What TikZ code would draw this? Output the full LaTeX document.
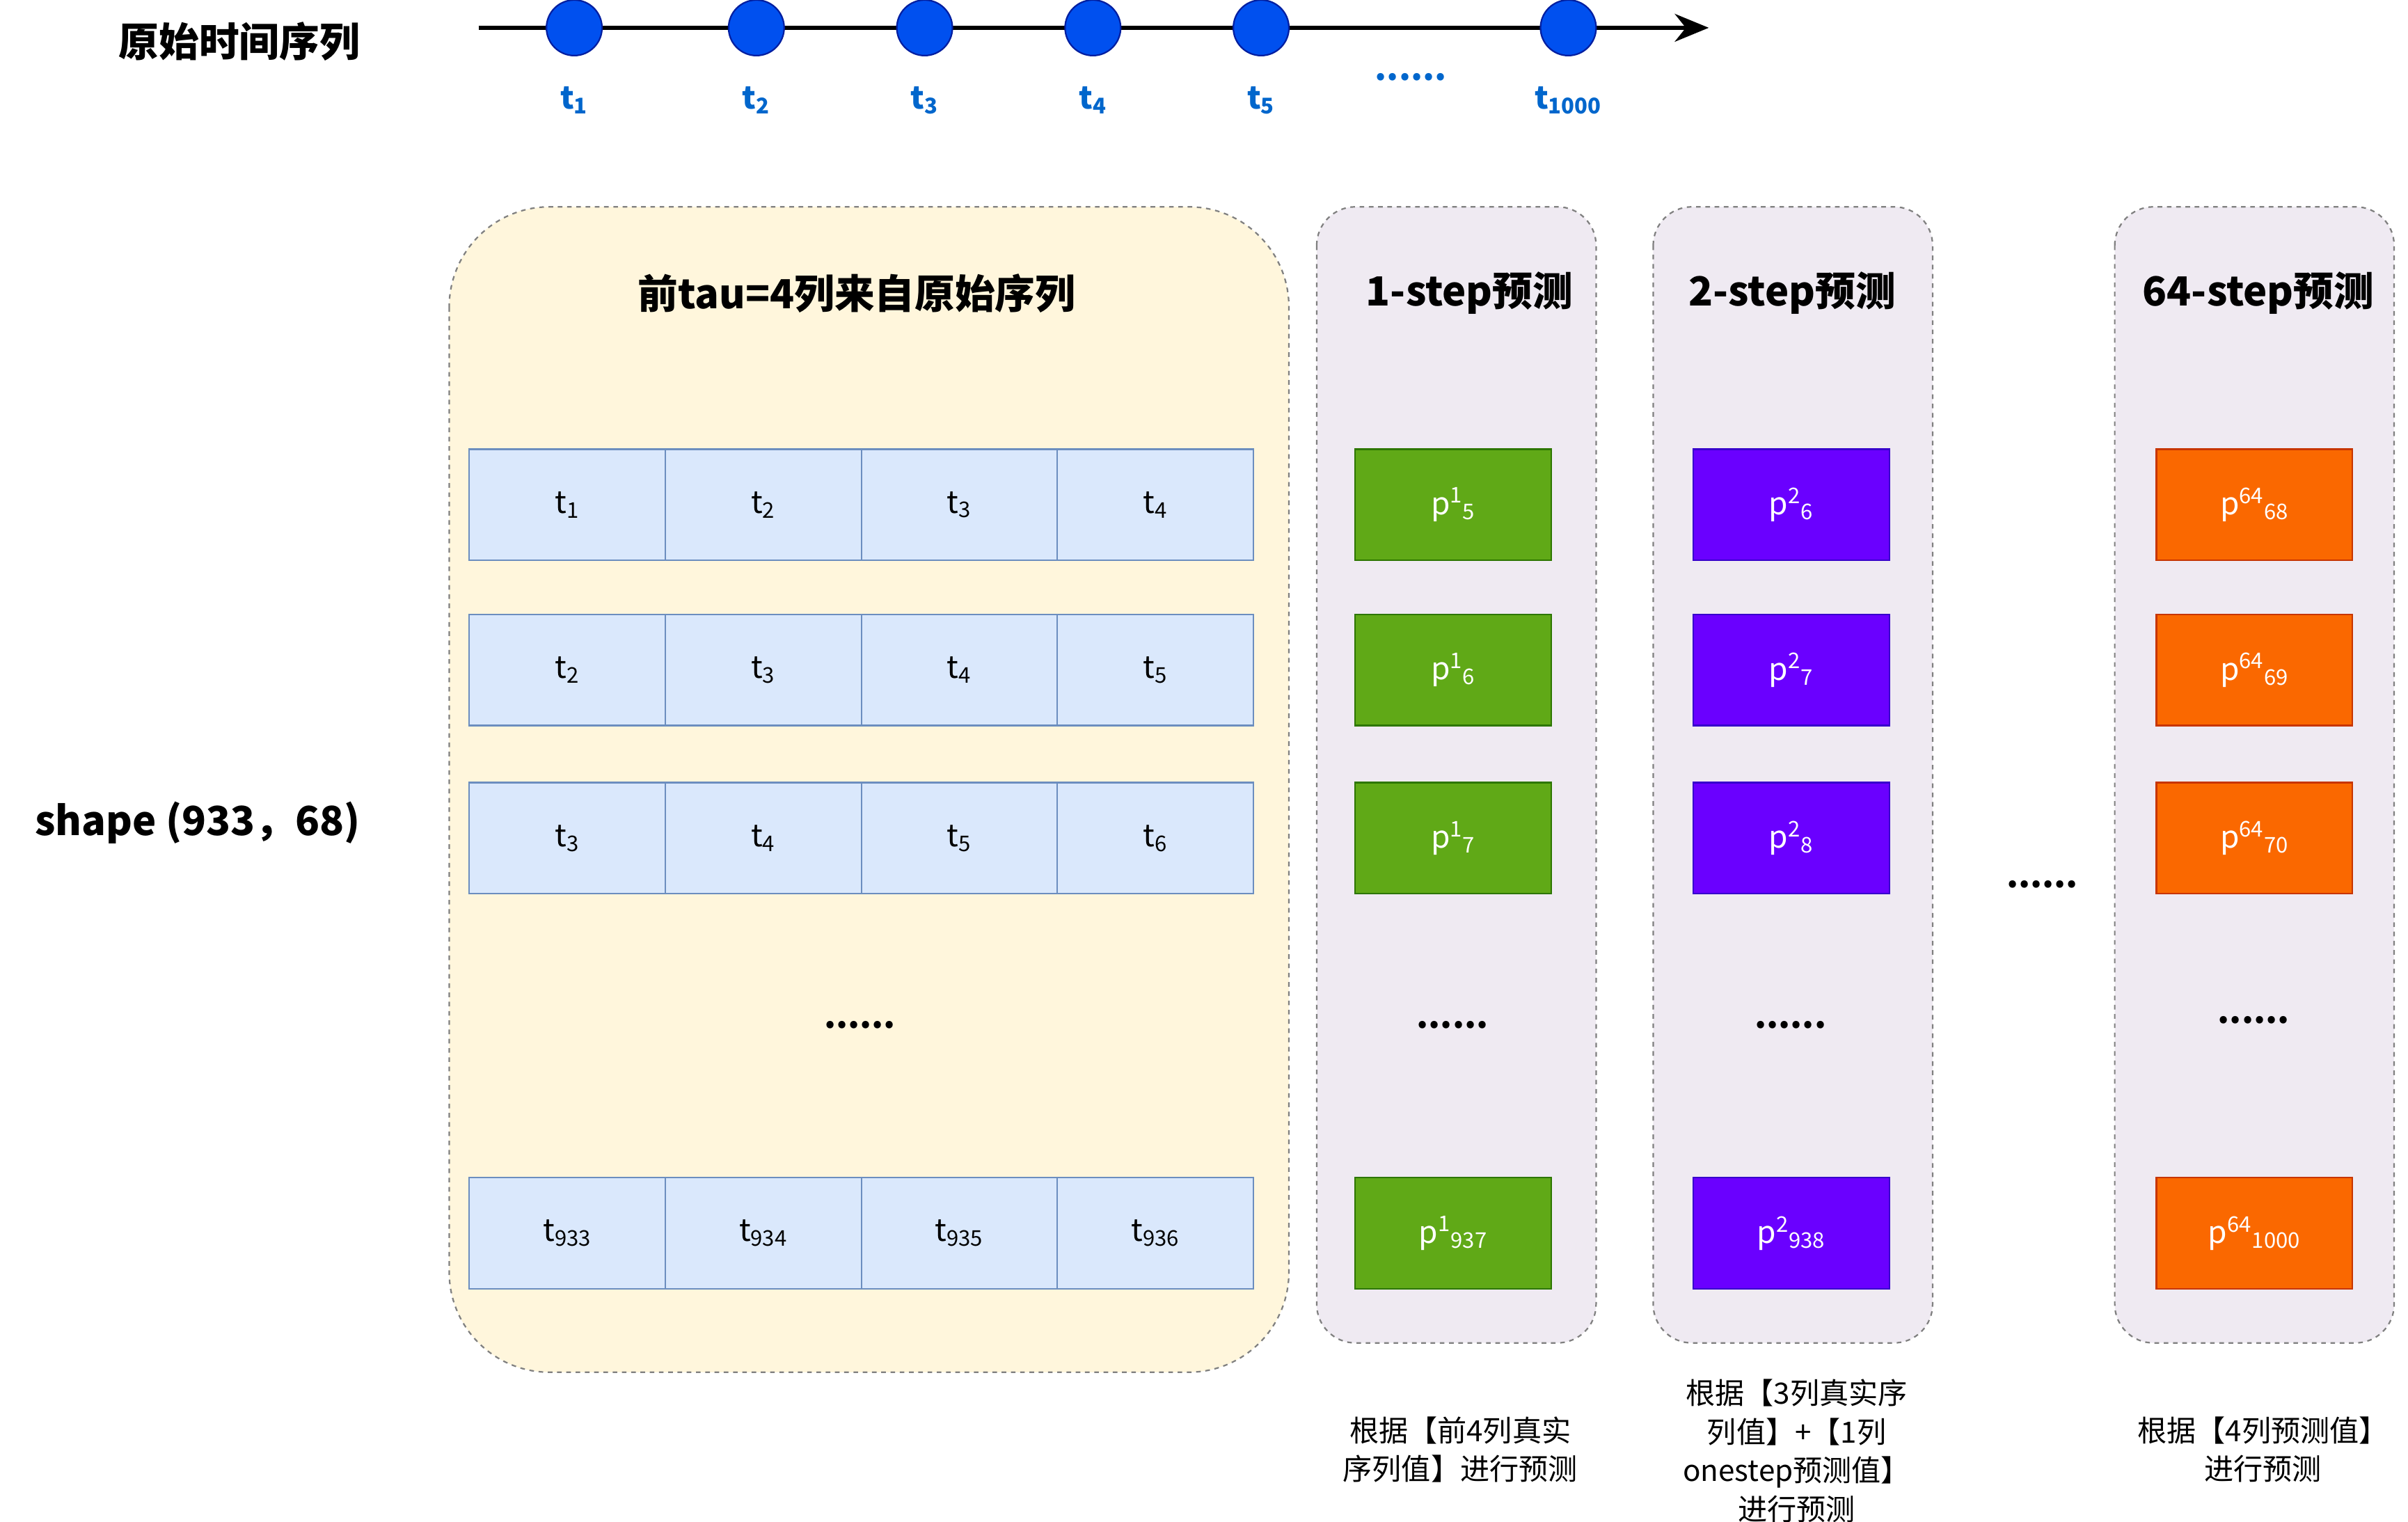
\documentclass[tikz,border=0pt]{standalone}
\usepackage{fontspec}
\setmainfont{Noto Sans CJK SC}
\usetikzlibrary{arrows.meta}
\definecolor{tblue}{HTML}{0050EF}
\definecolor{tblued}{HTML}{001EA0}
\definecolor{tlab}{HTML}{0066CC}
\definecolor{gfill}{HTML}{DAE8FC}
\definecolor{gline}{HTML}{6C8EBF}
\definecolor{yfill}{HTML}{FFF6DC}
\definecolor{pfill}{HTML}{EFEAF2}
\definecolor{grf}{HTML}{60A917}
\definecolor{grl}{HTML}{2D7600}
\definecolor{puf}{HTML}{6A00FF}
\definecolor{pul}{HTML}{3700CC}
\definecolor{orf}{HTML}{FA6800}
\definecolor{orl}{HTML}{C73500}
\begin{document}
\begin{tikzpicture}[x=1pt,y=-1pt,
  grid/.style={draw=gline,fill=gfill,line width=1pt,minimum width=127pt,minimum height=72pt,inner sep=0pt,font=\fontsize{20}{22}\selectfont},
  pbox/.style={draw=#1,line width=1pt,minimum width=127pt,minimum height=72pt,inner sep=0pt,text=white,font=\fontsize{20}{22}\selectfont},
  pan/.style={draw=gray,dashed,line width=1pt,rounded corners=25pt},
  ttl/.style={font=\fontsize{26}{28}\selectfont\bfseries},
  dots/.style={font=\fontsize{22}{22}\selectfont\bfseries},
  captxt/.style={font=\fontsize{19}{25}\selectfont,align=center},
  pt/.style={circle,draw=tblued,fill=tblue,minimum size=36pt,inner sep=0pt,line width=1pt},
  tl/.style={text=tlab,font=\fontsize{20}{22}\selectfont\bfseries}]
\useasboundingbox (0,0) rectangle (1560,986);
% timeline
\node[ttl] (title) at (155,27) {原始时间序列};
\coordinate (ls) at (310,18); \coordinate (le) at (1107,18);
\draw[line width=2.5pt,-{Stealth[length=22pt,width=18pt]}] (ls) -- (le);
\foreach \x/\l/\n in {372/1/a,490/2/b,599/3/c,708/4/d,817/5/e,1016/1000/f}{
  \node[pt] (c\n) at (\x,18) {};
  \node[tl] (l\n) at (\x,65) {t\textsubscript{\l}};
}
\node[text=tlab,dots] (tdots) at (914,50) {......};
% panels
\draw[pan,rounded corners=65pt,fill=yfill] (291,134) rectangle (835,889);
\foreach \x in {853,1071,1370}{
  \draw[pan,fill=pfill] (\x,134) rectangle ++(181,736);
}
\node[ttl] (h0) at (555,190) {前tau=4列来自原始序列};
\node[ttl] (h1) at (952,190) {1-step预测};
\node[ttl] (h2) at (1161,190) {2-step预测};
\node[ttl] (h3) at (1463,190) {64-step预测};
\node[ttl] (shape) at (128,533) {shape (933，68)};
% grid
\foreach \y/\a/\b/\c/\d/\r in {327/1/2/3/4/1,434/2/3/4/5/2,543/3/4/5/6/3,799/933/934/935/936/4}{
  \node[grid] (g\r a) at (367.5,\y) {t\textsubscript{\a}};
  \node[grid] (g\r b) at (494.5,\y) {t\textsubscript{\b}};
  \node[grid] (g\r c) at (621.5,\y) {t\textsubscript{\c}};
  \node[grid] (g\r d) at (748.5,\y) {t\textsubscript{\d}};
}
% predictions
\foreach \y/\a/\b/\c/\r in {327/5/6/68/1,434/6/7/69/2,543/7/8/70/3,799/937/938/1000/4}{
  \node[pbox=grl,fill=grf] (p\r a) at (941.5,\y) {p\textsuperscript{1}\textsubscript{\a}};
  \node[pbox=pul,fill=puf] (p\r b) at (1160.5,\y) {p\textsuperscript{2}\textsubscript{\b}};
  \node[pbox=orl,fill=orf] (p\r c) at (1460.5,\y) {p\textsuperscript{64}\textsubscript{\c}};
}
\node[dots] (d0) at (557,664) {......};
\node[dots] (d1) at (941,664) {......};
\node[dots] (d2) at (1160,664) {......};
\node[dots] (d3) at (1460,661) {......};
\node[dots] (d4) at (1323,573) {......};
% captions
\node[captxt] (k1) at (946,939) {根据【前4列真实\\序列值】进行预测};
\node[captxt] (k2) at (1164,940) {根据【3列真实序\\列值】+【1列\\onestep预测值】\\进行预测};
\node[captxt] (k3) at (1466,939) {根据【4列预测值】\\进行预测};
\end{tikzpicture}
\end{document}
